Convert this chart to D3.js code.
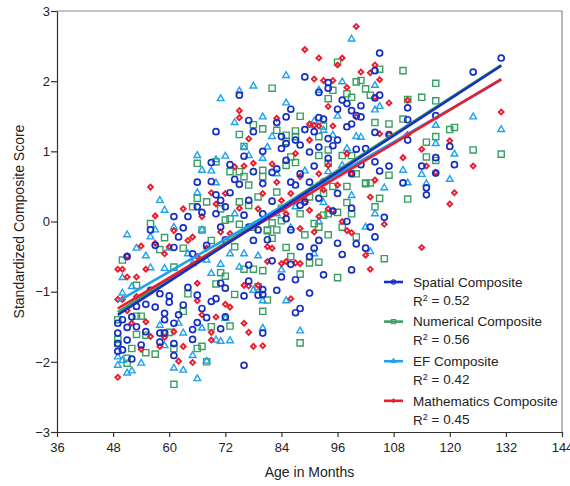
<!DOCTYPE html>
<html>
<head>
<meta charset="utf-8">
<script src="https://cdn.jsdelivr.net/npm/d3@7"></script>
<style>
  body { margin: 0; background: #fff; }
  text { font-family: "Liberation Sans", Arial, sans-serif; fill: #222; }
</style>
</head>
<body>
<script>
var width = 570
var height = 486

// points: [age in months, score]
const spatialPts = [[131,2.33],[125,2.13],[105,2.40],[104,2.15],[89,2.06],[75,1.80],[70,1.28],[94,1.98],[94,1.90],[92,1.84],
  [97,1.73],[96,1.60],[98,1.68],[99,1.58],[101,1.65],[100,1.51],[105,1.80],[104,1.76],[86,1.60],[85,1.49],
  [77,1.44],[78,1.28],[92,1.48],[93,1.46],[89,1.31],[101,1.49],[104,1.27],[111,1.62],[111,1.45],[117,1.51],
  [111,1.16],[110,0.55],[120,1.07],[121,0.81],[117,0.91],[117,0.69],[115,0.48],[115,0.38],[114,0.79],[106,0.06],
  [104,-0.22],[103,-0.08],[102,-0.38],[99,-0.69],[100,-0.32],[99,0.19],[98,0.0],[97,-0.47],[96,-0.31],[93,-0.76],
  [90,-0.50],[91,-0.38],[90,-1.02],[88,-1.24],[87,-1.30],[87,-0.83],[86,-0.61],[84,-0.79],[82,-0.56],[83,-0.98],
  [80,-1.59],[80,-1.04],[80,-0.97],[79,-1.05],[76,-2.05],[76,-1.06],[77,-0.85],[77,-0.62],[72,-1.36],[71,-1.53],
  [72,-0.95],[71,-0.88],[70,-1.10],[69,-1.14],[67,-1.24],[68,-1.37],[65,-1.54],[65,-1.68],[66,-1.44],[66,-1.05],
  [64,-0.94],[63,-1.19],[62,-1.33],[61,-1.45],[61,-1.91],[61,-1.74],[60,-1.06],[60,-1.15],[59,-1.31],[59,-1.40],
  [59,-1.59],[58,-1.72],[58,-1.59],[57,-1.22],[56,-0.98],[55,-1.57],[55,-1.18],[54,-1.76],[53,-1.50],[53,-1.21],
  [52,-1.96],[51,-1.69],[51,-1.51],[51,-0.50],[50,-1.83],[50,-1.40],[49,-1.85],[49,-1.59],[49,-1.45],[49,-1.74],
  [52,-1.36],[56,-0.12],[57,-0.34],[58,-1.03],[61,0.07],[61,-0.37],[62,-0.22],[63,-0.09],[64,0.07],[65,-0.46],
  [66,0.56],[66,0.21],[67,0.13],[68,-0.34],[69,0.57],[69,0.84],[70,0.38],[70,0.11],[71,0.30],[71,-0.08],
  [72,0.21],[72,-0.26],[73,0.81],[73,0.41],[74,0.60],[75,0.53],[76,0.93],[76,0.09],[77,0.30],[77,-0.08],
  [78,0.71],[78,-0.27],[79,-0.12],[80,1.00],[80,0.54],[80,0.11],[81,-0.26],[82,0.70],[82,0.29],[83,0.75],
  [83,1.41],[84,1.21],[84,1.04],[85,1.11],[85,0.87],[85,0.04],[86,0.56],[86,-0.12],[87,1.16],[87,0.52],
  [88,1.09],[88,0.68],[88,0.23],[88,-0.36],[89,0.28],[90,0.99],[90,0.56],[91,1.28],[91,0.79],[92,1.06],
  [92,0.33],[92,-0.27],[93,0.56],[94,1.18],[94,0.90],[95,1.08],[95,0.15],[96,0.40],[96,1.16],[98,1.35],
  [99,1.39],[99,0.68],[100,1.03],[101,0.81],[102,1.04],[104,0.85],[105,0.72],[107,0.79],[107,1.24]]

const numericalPts = [[110,2.15],[117,1.97],[114,1.77],[117,1.72],[111,1.74],[110,1.46],[107,1.39],[104,1.41],[105,2.17],[96,2.27],
  [101,2.01],[100,1.99],[102,1.89],[103,1.80],[98,1.82],[99,1.77],[95,1.87],[94,1.75],[82,1.90],[88,1.50],
  [93,1.36],[80,1.32],[78,1.38],[75,1.24],[76,1.07],[83,1.30],[85,1.23],[87,1.29],[87,1.21],[85,1.14],
  [92,1.21],[94,1.02],[94,0.83],[99,0.94],[97,0.94],[115,1.13],[117,1.21],[117,0.87],[115,0.92],[120,1.31],
  [121,1.34],[125,1.02],[131,0.96],[111,0.32],[103,0.55],[102,0.54],[104,0.21],[106,-0.53],[100,-0.22],[98,0.27],
  [97,-0.08],[96,-0.80],[96,0.13],[93,0.09],[92,-0.08],[94,-0.19],[92,-0.58],[90,-0.59],[88,-0.75],[88,-1.73],
  [86,-0.50],[85,-0.37],[84,0.01],[83,-0.12],[82,-0.02],[81,-0.13],[81,-1.12],[80,-1.28],[80,-0.70],[79,-0.93],
  [78,-0.68],[76,-0.68],[74,-1.04],[73,-1.49],[72,-0.78],[71,-0.73],[70,-0.89],[69,-1.50],[68,-2.00],[67,-1.78],
  [66,-1.81],[64,-1.03],[63,-1.28],[61,-2.32],[61,-1.81],[60,-1.58],[59,-1.59],[57,-1.89],[55,-1.87],[55,-1.62],
  [54,-1.35],[53,-1.35],[53,-1.61],[52,-1.81],[51,-1.95],[51,-2.02],[49,-1.74],[49,-1.68],[49,-1.40],[50,-0.55],
  [53,-0.91],[56,-0.03],[58,-0.40],[59,-0.23],[61,-0.65],[63,-0.38],[65,0.21],[66,0.83],[66,0.33],[67,-0.12],
  [68,0.28],[69,-0.27],[70,0.85],[71,0.18],[72,0.02],[73,0.71],[73,0.04],[74,-0.36],[75,0.71],[75,0.28],
  [75,-0.04],[76,0.64],[77,0.52],[77,0.23],[78,-0.08],[79,0.35],[80,0.73],[80,0.64],[81,-0.12],[82,-0.24],
  [83,0.42],[84,0.19],[85,0.80],[86,0.92],[87,0.84],[88,0.11],[89,-0.19],[90,0.35],[91,-0.03],[92,0.94],
  [93,0.40],[94,0.11],[95,0.50],[98,0.50],[99,0.11],[100,0.68],[105,0.33],[107,0.66],[102,0.55]]

const efPts = [[99,2.60],[85,2.08],[78,1.93],[75,1.86],[71,1.75],[97,1.99],[104,1.94],[104,1.59],[105,1.64],[80,1.49],
  [74,1.41],[85,1.69],[91,1.43],[96,1.50],[93,1.30],[125,1.49],[131,1.31],[117,1.37],[117,1.11],[121,0.96],
  [120,0.60],[115,0.54],[114,0.67],[110,0.73],[111,0.55],[106,0.48],[104,0.11],[103,-0.43],[100,1.21],[101,1.20],
  [98,1.04],[95,1.23],[94,0.71],[97,0.80],[99,0.37],[93,0.27],[92,0.00],[91,-0.46],[88,-1.56],[85,-1.13],
  [84,-0.69],[82,1.21],[83,0.68],[81,1.06],[80,0.90],[77,0.94],[76,1.06],[72,0.93],[70,0.88],[69,0.72],
  [70,0.55],[66,0.94],[66,0.41],[67,0.73],[59,0.16],[58,0.30],[56,-0.22],[57,-0.12],[51,-0.19],[53,-0.38],
  [55,-0.49],[50,-0.80],[50,-1.02],[52,-0.93],[56,-0.66],[59,-0.67],[61,-0.08],[60,-0.38],[64,-0.46],[65,-0.60],
  [67,-0.12],[68,-0.55],[69,-0.74],[71,-0.61],[73,-0.46],[75,-0.65],[76,-0.46],[78,-0.98],[79,-0.49],[80,-1.13],
  [80,-1.52],[72,-1.38],[71,-1.71],[70,-1.69],[73,-1.70],[68,-1.99],[66,-2.24],[65,-1.91],[63,-2.12],[61,-2.09],
  [54,-2.02],[52,-2.13],[51,-2.16],[49,-2.05],[50,-1.98],[49,-1.93],[58,-1.48],[59,-1.77],[62,-1.45],[63,-1.59],
  [67,-1.52],[74,0.11],[83,0.11],[86,-0.09],[87,0.21],[89,0.72],[90,1.37],[92,1.87],[93,0.56],[102,-0.08]]

const mathPts = [[100,2.78],[89,2.45],[92,2.33],[97,2.33],[96,2.23],[104,2.23],[103,2.12],[101,2.13],[105,2.02],[95,2.01],
  [93,2.01],[91,2.03],[98,1.91],[104,1.77],[107,1.69],[111,1.73],[94,1.64],[100,1.49],[131,1.56],[75,1.58],
  [75,1.48],[83,1.47],[91,1.37],[92,1.36],[90,1.39],[95,1.36],[107,1.24],[111,1.24],[120,1.15],[114,1.03],
  [110,0.91],[115,0.79],[117,0.70],[125,0.79],[121,0.41],[120,0.25],[114,-0.37],[106,-0.04],[103,-0.68],[102,-0.48],
  [99,-0.16],[98,-0.13],[97,0.00],[95,0.16],[94,0.18],[92,0.07],[91,-0.15],[90,0.16],[88,-0.10],[88,-0.60],
  [87,-0.59],[86,-1.10],[85,-0.57],[84,-0.60],[82,-0.38],[81,-0.57],[80,-1.77],[78,-1.78],[77,-1.58],[76,-1.45],
  [77,-0.92],[76,-0.91],[79,-0.91],[73,-1.22],[72,-1.18],[70,-1.36],[69,-1.58],[69,-1.69],[67,-1.33],[66,-1.13],
  [66,-0.88],[65,-2.01],[63,-1.78],[62,-1.99],[61,-1.57],[59,-1.65],[58,-1.78],[56,-1.64],[55,-1.43],[54,-1.82],
  [53,-1.07],[52,-1.45],[51,-1.27],[50,-1.11],[49,-2.22],[49,-1.11],[49,-0.68],[50,-0.68],[51,-0.79],[51,-0.49],
  [53,-0.79],[54,-0.35],[55,-0.68],[56,0.49],[57,0.08],[57,-0.31],[59,-0.46],[60,-0.36],[61,-0.13],[63,0.18],
  [64,-0.27],[65,-0.22],[66,-0.50],[67,0.07],[68,-0.38],[69,0.41],[70,0.25],[71,-0.15],[72,0.40],[73,-0.17],
  [74,0.78],[75,0.19],[76,0.79],[77,1.18],[78,0.83],[79,0.18],[80,0.40],[81,-0.36],[82,0.82],[83,0.56],
  [84,0.30],[85,0.11],[86,0.40],[87,0.97],[88,0.64],[89,0.27],[90,1.16],[92,0.68],[93,0.45],[94,0.80],
  [96,0.52],[98,0.97],[99,0.68],[103,0.35],[104,0.59],[105,1.25]]

// regression lines: score at first and last age
const fitAges = [49, 131]
const spatialFit = [-1.33, 2.22]
const numericalFit = [-1.29, 2.23]
const efFit = [-1.14, 2.02]
const mathFit = [-1.24, 2.03]

const xTicks = [36, 48, 60, 72, 84, 96, 108, 120, 132, 144]
const yTicks = [-3, -2, -1, 0, 1, 2, 3]

const series = [
  {name: "Numerical Composite", r2: "0.56", pts: numericalPts, fit: numericalFit, color: "#3a9f63", shape: "square"},
  {name: "EF Composite", r2: "0.42", pts: efPts, fit: efFit, color: "#1ea2f0", shape: "triangle"},
  {name: "Mathematics Composite", r2: "0.45", pts: mathPts, fit: mathFit, color: "#ec1c2c", shape: "diamond"},
  {name: "Spatial Composite", r2: "0.52", pts: spatialPts, fit: spatialFit, color: "#1630c6", shape: "circle"}
]
const legendOrder = ["Spatial Composite", "Numerical Composite", "EF Composite", "Mathematics Composite"]

var x = d3.scaleLinear().domain([36, 144]).range([57, 562])
var y = d3.scaleLinear().domain([-3, 3]).range([432, 11])

var svg = d3.select("body").append("svg")
  .attr("width", width)
  .attr("height", height)

// top and right frame
svg.append("path")
  .attr("d", `M${x(36)},${y(3)}H${x(144)}V${y(-3)}`)
  .attr("fill", "none")
  .attr("stroke", "#8a8a8a")
  .attr("stroke-width", 1.2)

const symbolPath = (shape) => {
  if (shape == "circle") return d3.symbol(d3.symbolCircle, 28)()
  if (shape == "square") return d3.symbol(d3.symbolSquare, 38)()
  if (shape == "triangle") return d3.symbol(d3.symbolTriangle, 19)()
  return d3.symbol(d3.symbolSquare, 12)()
}

series.forEach(s => {
  svg.append("g").selectAll("path")
    .data(s.pts)
    .enter()
    .append("path")
    .attr("d", symbolPath(s.shape))
    .attr("transform", d => `translate(${x(d[0])},${y(d[1])})` + (s.shape == "diamond" ? " rotate(45)" : ""))
    .attr("fill", "none")
    .attr("stroke", s.color)
    .attr("stroke-width", s.shape == "diamond" ? 1.9 : (s.shape == "circle" ? 1.7 : 1.4))
})

// fit lines
var line = d3.line().x(d => x(d[0])).y(d => y(d[1]))
series.forEach(s => {
  svg.append("path")
    .datum(fitAges.map((a, i) => [a, s.fit[i]]))
    .attr("d", line)
    .attr("stroke", s.color)
    .attr("stroke-width", 2.6)
    .attr("fill", "none")
})

// axes
var xAxis = svg.append("g")
  .attr("transform", `translate(0,${y(-3)})`)
  .call(d3.axisBottom(x).tickValues(xTicks).tickFormat(d3.format("d")).tickSize(5).tickSizeOuter(0))
var yAxis = svg.append("g")
  .attr("transform", `translate(${x(36)},0)`)
  .call(d3.axisLeft(y).tickValues(yTicks).tickFormat(d3.format("d")).tickSize(6).tickSizeOuter(0))

;[xAxis, yAxis].forEach(a => {
  a.selectAll("path, line").attr("stroke", "#333").attr("stroke-width", 1.2)
  a.selectAll("text").attr("font-size", 13).attr("fill", "#222")
    .attr("font-family", "Liberation Sans, Arial, sans-serif")
})
xAxis.selectAll("text").attr("dy", "0.9em")
yAxis.selectAll("text").attr("x", -7)

svg.append("text")
  .attr("x", (x(36) + x(144)) / 2)
  .attr("y", 477)
  .attr("text-anchor", "middle")
  .attr("font-size", 14)
  .text("Age in Months")

svg.append("text")
  .attr("transform", `translate(20,${(y(3) + y(-3)) / 2}) rotate(-90)`)
  .attr("text-anchor", "middle")
  .attr("dominant-baseline", "middle")
  .attr("font-size", 14)
  .text("Standardized Composite Score")

// legend
var legend = svg.append("g")
legendOrder.forEach((name, i) => {
  const s = series.find(d => d.name == name)
  const ly = 282 + i * 39.6
  legend.append("line")
    .attr("x1", 384).attr("x2", 403)
    .attr("y1", ly).attr("y2", ly)
    .attr("stroke", s.color).attr("stroke-width", 2.6)
  legend.append("path")
    .attr("d", symbolPath(s.shape))
    .attr("transform", `translate(393.5,${ly})` + (s.shape == "diamond" ? " rotate(45)" : "") + " scale(0.7)")
    .attr("fill", "none")
    .attr("stroke", s.color)
    .attr("stroke-width", 1.6)
  legend.append("text")
    .attr("x", 413).attr("y", ly)
    .attr("dy", "0.35em")
    .attr("font-size", 13.5)
    .text(s.name)
  var r2 = legend.append("text")
    .attr("x", 413).attr("y", ly + 19)
    .attr("dy", "0.35em")
    .attr("font-size", 13.5)
  r2.append("tspan").text("R")
  r2.append("tspan").attr("font-size", 9).attr("dy", "-0.55em").text("2")
  r2.append("tspan").attr("dy", "0.3em").text(" = " + s.r2)
})
</script>
</body>
</html>
